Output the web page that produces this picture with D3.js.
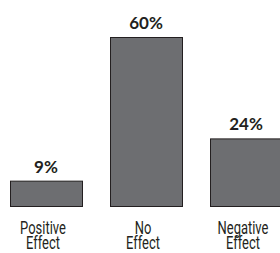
<!DOCTYPE html>
<html>
<head>
<meta charset="utf-8">
<script src="https://cdn.jsdelivr.net/npm/d3@7"></script>
<style>
  html, body { margin: 0; padding: 0; background: #fff; }
  #canvas { width: 280px; height: 253px; overflow: hidden; }
  .value { font-family: Lato, "DejaVu Sans", sans-serif; font-weight: bold; font-size: 17px; fill: #231f20; }
  .cat { font-family: Roboto, "DejaVu Sans", sans-serif; font-size: 18px; fill: #231f20; }
</style>
</head>
<body>
<div id="canvas" class="canvas"></div>
<script>
var categories = [['Positive', 'Effect'], ['No', 'Effect'], ['Negative', 'Effect']];
var values = [9, 60, 24];
var valueLabels = ['9%', '60%', '24%'];

var outerWidth = 280, outerHeight = 253;
var narrow = 0.72; // squeeze for a condensed look

var svg = d3.select('.canvas')
    .append('svg')
    .attr('width', outerWidth)
    .attr('height', outerHeight);

var scaleX = d3.scaleBand()
    .domain(d3.range(values.length))
    .range([-18, 310])
    .paddingInner(0.28)
    .paddingOuter(0.28);

var scaleY = d3.scaleLinear()
    .domain([0, 60])
    .range([206.5, 37.5]);

var rows = values.map(function(v, i){
    return {value: v, label: valueLabels[i], cat: categories[i], i: i};
});

//Bars
svg.selectAll('.bar')
    .data(rows)
    .enter()
    .append('rect')
    .attr('class', 'bar')
    .attr('x', function(d){ return Math.round(scaleX(d.i)) + 0.5; })
    .attr('y', function(d){ return scaleY(d.value); })
    .attr('width', scaleX.bandwidth())
    .attr('height', function(d){ return scaleY(0) - scaleY(d.value); })
    .style('fill', '#6d6e71')
    .style('stroke', '#231f20')
    .style('stroke-width', '1px');

//Value labels
svg.selectAll('.value')
    .data(rows)
    .enter()
    .append('text')
    .attr('class', 'value')
    .attr('x', function(d){ return scaleX(d.i) + scaleX.bandwidth() / 2; })
    .attr('y', function(d){ return scaleY(d.value) - 8.5; })
    .attr('text-anchor', 'middle')
    .text(function(d){ return d.label; });

//Category labels
var cat = svg.selectAll('.catg')
    .data(rows)
    .enter()
    .append('g')
    .attr('class', 'catg')
    .attr('transform', function(d){
        return 'translate(' + (scaleX(d.i) + scaleX.bandwidth() / 2 - 3) + ',0) scale(' + narrow + ',1)';
    })
    .append('text')
    .attr('class', 'cat')
    .attr('text-anchor', 'middle');

cat.selectAll('tspan')
    .data(function(d){ return d.cat.map(function(t, k){ return {t: t, k: k}; }); })
    .enter()
    .append('tspan')
    .attr('x', 0)
    .attr('y', function(d){ return 234 + d.k * 15; })
    .text(function(d){ return d.t; });
</script>
</body>
</html>
